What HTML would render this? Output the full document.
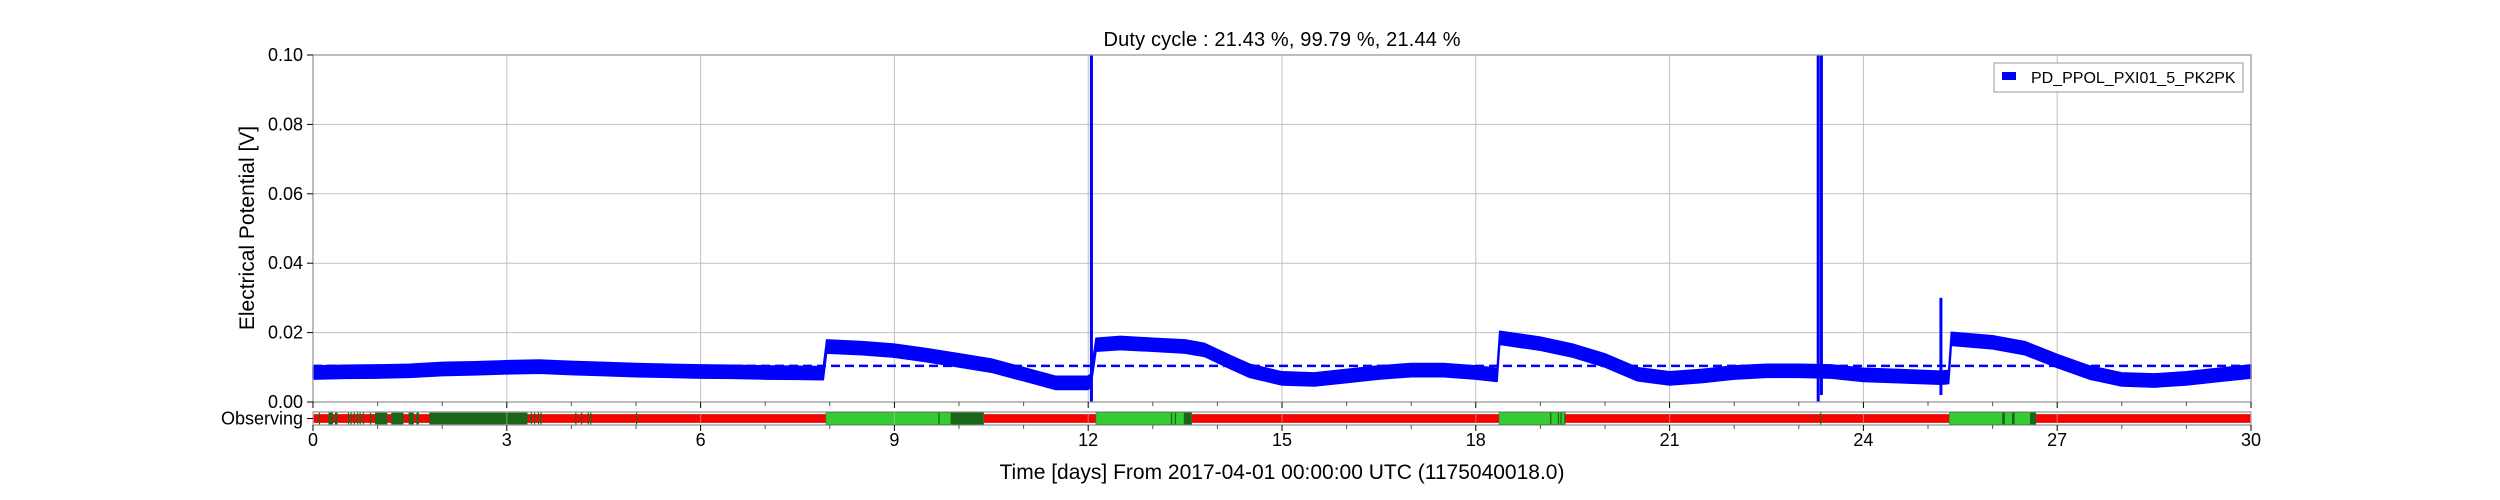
<!DOCTYPE html>
<html><head><meta charset="utf-8"><style>
html,body{margin:0;padding:0;background:#fff;}
svg{display:block;font-family:"Liberation Sans",Arial,sans-serif;}
</style></head><body>
<svg id="chart" width="2500" height="500" viewBox="0 0 2500 500">
<text x="1282" y="46" text-anchor="middle" font-size="20" textLength="357">Duty cycle : 21.43 %, 99.79 %, 21.44 %</text>
<g id="grid"></g>
<g id="series"></g>
<g id="axes"></g>
<g id="obs"></g>
<text x="254" y="228" text-anchor="middle" font-size="21" transform="rotate(-90 254 228)">Electrical Potential [V]</text>
<text x="1282" y="479" text-anchor="middle" font-size="21">Time [days] From 2017-04-01 00:00:00 UTC (1175040018.0)</text>
<g>
<rect x="1994" y="63" width="249" height="29" fill="#fff" stroke="#999" stroke-width="1"/>
<rect x="2002" y="72" width="14" height="8" fill="#0000ff"/>
<text x="2031" y="83" font-size="16">PD_PPOL_PXI01_5_PK2PK</text>
</g>
</svg>
<script>
// ---- data ----
const days = [0,0.5,1,1.5,2,2.5,3,3.5,4,4.5,5,5.5,6,6.5,7,7.5,7.9,7.95,8.5,9,9.5,10,10.5,11,11.5,12,12.04,12.12,12.5,13,13.5,13.8,14.2,14.5,15,15.5,16,16.5,17,17.5,18,18.33,18.37,19,19.5,20,20.5,21,21.5,22,22.5,23,23.5,24,24.5,25.2,25.32,25.36,26,26.5,27,27.5,28,28.5,29,29.5,30];
const levels = [0.0085,0.0087,0.0088,0.009,0.0095,0.0097,0.01,0.0102,0.0098,0.0095,0.0092,0.009,0.0088,0.0087,0.0085,0.0084,0.0083,0.016,0.0155,0.0148,0.0135,0.012,0.0105,0.008,0.0055,0.0055,0.0062,0.0165,0.017,0.0165,0.016,0.015,0.0115,0.009,0.0068,0.0065,0.0075,0.0085,0.0092,0.0092,0.0085,0.0078,0.0185,0.0168,0.0148,0.012,0.008,0.0068,0.0075,0.0085,0.009,0.009,0.0088,0.0078,0.0075,0.007,0.0072,0.0182,0.0172,0.0155,0.0118,0.0085,0.0065,0.0062,0.0068,0.0078,0.0088];
const bandHalf = [0.0019];
const spikeDays = [12.05,23.3,23.35,25.2];
const spikeTops = [0.1,0.1,0.1,0.030];
const spikeBottoms = [0.0,0.0,0.002,0.002];
const meanLevel = [0.0104];
const obsDark = [[0.09,0.1],[0.24,0.31],[0.34,0.38],[0.54,0.55],[0.58,0.59],[0.63,0.64],[0.68,0.69],[0.72,0.73],[0.77,0.78],[0.88,0.89],[0.96,1.15],[1.21,1.40],[1.48,1.56],[1.60,1.64],[1.80,3.32],[3.37,3.38],[3.42,3.43],[3.48,3.49],[3.52,3.53],[4.06,4.07],[4.15,4.16],[4.25,4.26],[4.29,4.30],[5.0,5.01],[9.68,9.70],[9.87,10.38],[13.28,13.30],[13.34,13.36],[13.48,13.60],[19.15,19.17],[19.27,19.28],[19.31,19.32],[19.37,19.38],[23.33,23.34],[26.15,26.19],[26.30,26.34],[26.58,26.67]];
const obsBright = [[7.94,10.38],[12.12,13.60],[18.36,19.38],[25.33,26.67]];
const xTicks = [0,3,6,9,12,15,18,21,24,27,30];
const yTicks = [0,0.02,0.04,0.06,0.08,0.10];
const yTickLabels = ["0.00","0.02","0.04","0.06","0.08","0.10"];

// ---- axes ----
const L=313,R=2251,T=55,B=402;
const X=d=>L+(d/30)*(R-L);
const Y=v=>B-(v/0.1)*(B-T);
const NS="http://www.w3.org/2000/svg";
function mk(tag,attrs,parent){const e=document.createElementNS(NS,tag);for(const k in attrs)e.setAttribute(k,attrs[k]);parent.appendChild(e);return e;}
const grid=document.getElementById('grid'),series=document.getElementById('series'),axes=document.getElementById('axes'),obs=document.getElementById('obs');

mk('rect',{x:L,y:T,width:R-L,height:B-T,fill:'#fff'},grid);
xTicks.forEach(d=>{const l=mk('line',{x1:X(d),x2:X(d),y1:T,y2:B,stroke:'#c0c0c0','stroke-width':1},grid);

});
yTicks.forEach(v=>{const l=mk('line',{x1:L,x2:R,y1:Y(v),y2:Y(v),stroke:'#c0c0c0','stroke-width':1},grid);

});

// band
let up=[],dn=[];
for(let i=0;i<days.length;i++){up.push(X(days[i]).toFixed(1)+','+Y(levels[i]+bandHalf[0]).toFixed(1));dn.unshift(X(days[i]).toFixed(1)+','+Y(levels[i]-bandHalf[0]).toFixed(1));}
const band=mk('polygon',{points:up.concat(dn).join(' '),fill:'#0000ff',stroke:'#0000ff','stroke-width':1.5,'stroke-linejoin':'round'},series);


spikeDays.forEach((d,i)=>{const s=mk('line',{x1:X(d),x2:X(d),y1:Y(spikeTops[i]),y2:Y(spikeBottoms[i]),stroke:'#0000ff','stroke-width':3},series);

});
const ml=mk('line',{x1:L,x2:R,y1:Y(meanLevel[0]),y2:Y(meanLevel[0]),stroke:'#0000ff','stroke-width':2.5,'stroke-dasharray':'9,5'},series);



// frame & ticks
mk('rect',{x:L,y:T,width:R-L,height:B-T,fill:'none',stroke:'#999','stroke-width':1.3},axes);
for(let d=0;d<=30;d++){const major=d%3===0;mk('line',{x1:X(d),x2:X(d),y1:B,y2:B+(major?6:4),stroke:major?'#000':'#555','stroke-width':1},axes);}
yTicks.forEach((v,i)=>{mk('line',{x1:L-6,x2:L,y1:Y(v),y2:Y(v),stroke:'#000'},axes);
const t=mk('text',{x:L-10,y:Y(v)+6,'text-anchor':'end','font-size':18},axes);t.textContent=yTickLabels[i];

});

// observing bar
const OT=412,OB=425;
mk('rect',{x:L,y:OT,width:R-L,height:OB-OT,fill:'#fff',stroke:'#999','stroke-width':1.3},obs);
mk('rect',{x:L+1,y:OT+2.5,width:R-L-2,height:OB-OT-5,fill:'#ff0000',stroke:'#aa0000','stroke-width':0.6},obs);
obsBright.forEach(s=>{const r=mk('rect',{x:X(s[0]),y:OT+0.6,width:X(s[1])-X(s[0]),height:OB-OT-1.2,fill:'#33cc33',stroke:'#2a8a2a','stroke-width':0.6},obs);

});
obsDark.forEach(s=>{const r=mk('rect',{x:X(s[0]),y:OT+0.6,width:Math.max(1.2,X(s[1])-X(s[0])),height:OB-OT-1.2,fill:'#1b651b'},obs);

});
xTicks.forEach(d=>{mk('line',{x1:X(d),x2:X(d),y1:OT,y2:OB,stroke:'#c0c0c0','stroke-width':1,opacity:0.6},obs);});
for(let d=0;d<=30;d++){const major=d%3===0;mk('line',{x1:X(d),x2:X(d),y1:OB,y2:OB+(major?6:4),stroke:major?'#000':'#555'},obs);}
mk('line',{x1:L-6,x2:L,y1:(OT+OB)/2,y2:(OT+OB)/2,stroke:'#000'},obs);
const ol=mk('text',{x:L-10,y:(OT+OB)/2+6,'text-anchor':'end','font-size':18},obs);ol.textContent='Observing';


xTicks.forEach(d=>{const t=mk('text',{x:X(d),y:446,'text-anchor':'middle','font-size':18},obs);t.textContent=String(d);

});
</script>
</body></html>
